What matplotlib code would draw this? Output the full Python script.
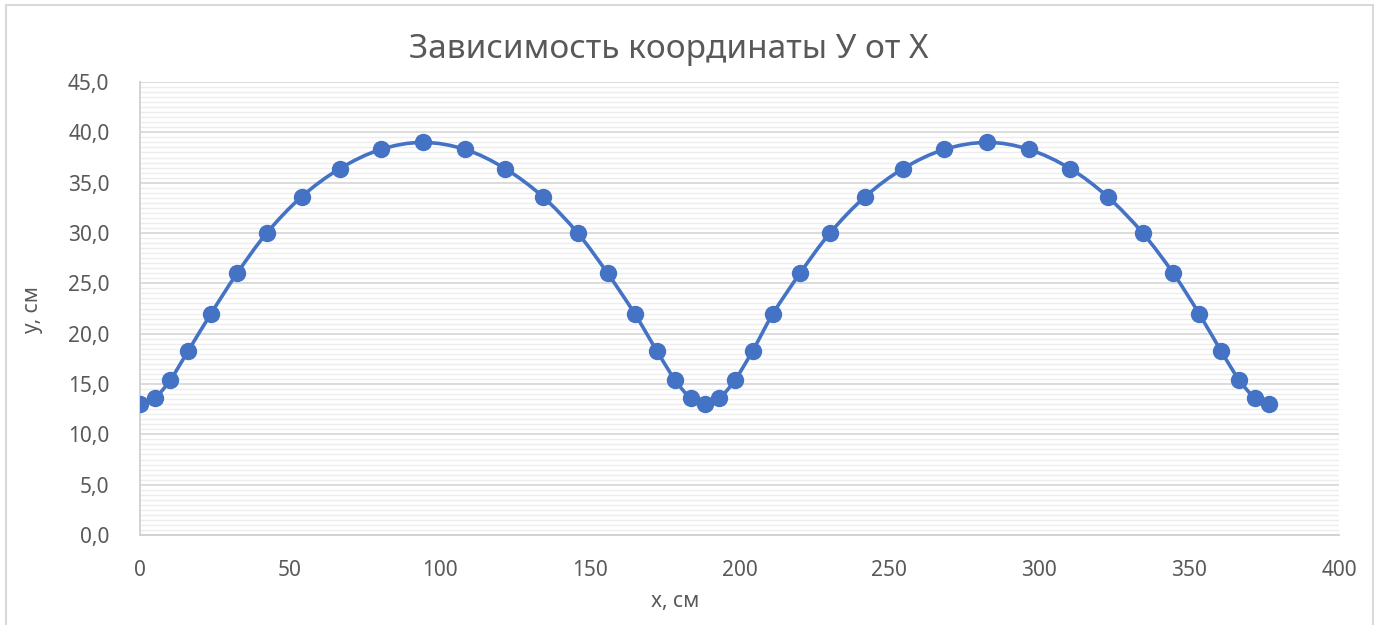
import numpy as np
import matplotlib.pyplot as plt
from matplotlib.path import Path
from matplotlib.patches import PathPatch, Rectangle
from matplotlib.ticker import MultipleLocator, FuncFormatter

plt.rcParams['font.family'] = ['Noto Sans', 'DejaVu Sans']

# coordinates of the point, cm
x_cm = [0, 4.9, 10.1, 16.1, 23.7, 32.4, 42.3, 53.9, 66.7, 80.3, 94.3,
        108.5, 121.8, 134.4, 146.0, 156.0, 165.0, 172.4, 178.5, 183.7, 188.5,
        193.3, 198.5, 204.4, 211.2, 220.2, 230.2, 241.9, 254.6, 268.3, 282.7,
        296.6, 310.3, 322.8, 334.5, 344.7, 353.3, 360.6, 366.7, 372.0, 376.7]
y_cm = [13.0, 13.6, 15.4, 18.3, 22.0, 26.0, 30.0, 33.6, 36.4, 38.3, 39.0,
        38.3, 36.4, 33.6, 30.0, 26.0, 22.0, 18.3, 15.4, 13.6, 13.0,
        13.6, 15.4, 18.3, 22.0, 26.0, 30.0, 33.6, 36.4, 38.3, 39.0,
        38.3, 36.4, 33.6, 30.0, 26.0, 22.0, 18.3, 15.4, 13.6, 13.0]

title = "Зависимость координаты У от Х"
xlabel = "x, см"
ylabel = "у, см"

blue = "#4472C4"
text_c = "#595959"

fig = plt.figure(figsize=(13.78, 6.25), dpi=100)
ax = fig.add_axes([140 / 1378, 1 - 535 / 625, 1199 / 1378, 453 / 625])

# chart border
fig.patches.append(Rectangle((6 / 1378, -0.02), 1367 / 1378, 1 - 5 / 625 + 0.02,
                             transform=fig.transFigure, fill=False,
                             edgecolor="#d9d9d9", linewidth=1.5))

# smoothed line through the points (cubic bezier segments)
pts = np.column_stack([x_cm, y_cm])
n = len(pts)
verts = [pts[0]]
codes = [Path.MOVETO]
for i in range(n - 1):
    p0 = pts[max(i - 1, 0)]
    p1 = pts[i]
    p2 = pts[i + 1]
    p3 = pts[min(i + 2, n - 1)]
    c1 = p1 + (p2 - p0) / 6.0
    c2 = p2 - (p3 - p1) / 6.0
    verts += [c1, c2, p2]
    codes += [Path.CURVE4] * 3
ax.add_patch(PathPatch(Path(verts, codes), facecolor="none",
                       edgecolor=blue, linewidth=2.6, zorder=3))
ax.plot(x_cm, y_cm, linestyle="none", marker="o", markersize=11.5,
        color=blue, zorder=4)

ax.set_xlim(0, 400)
ax.set_ylim(0, 45)
ax.xaxis.set_major_locator(MultipleLocator(50))
ax.yaxis.set_major_locator(MultipleLocator(5))
ax.yaxis.set_minor_locator(MultipleLocator(0.5))
ax.yaxis.set_major_formatter(FuncFormatter(lambda v, p: f"{v:.1f}".replace(".", ",")))

ax.grid(axis="y", which="major", color="#d9d9d9", linewidth=1.3)
ax.grid(axis="y", which="minor", color="#ededed", linewidth=1.0)
ax.set_axisbelow(True)

for s in ["top", "right"]:
    ax.spines[s].set_visible(False)
for s in ["left", "bottom"]:
    ax.spines[s].set_color("#d0d0d0")
    ax.spines[s].set_linewidth(1.3)

ax.tick_params(which="both", length=0)
ax.tick_params(axis="y", pad=22, labelsize=15, labelcolor=text_c)
ax.tick_params(axis="x", pad=18, labelsize=15, labelcolor=text_c)

fig.text(669 / 1378, 1 - 50 / 625, title, ha="center", va="center",
         fontsize=24, color=text_c)
fig.text(675 / 1378, 1 - 601 / 625, xlabel, ha="center", va="center",
         fontsize=15, color=text_c)
fig.text(33 / 1378, 1 - 310 / 625, ylabel, ha="center", va="center",
         rotation=90, fontsize=15, color=text_c)

fig.savefig("out.png", dpi=100)
